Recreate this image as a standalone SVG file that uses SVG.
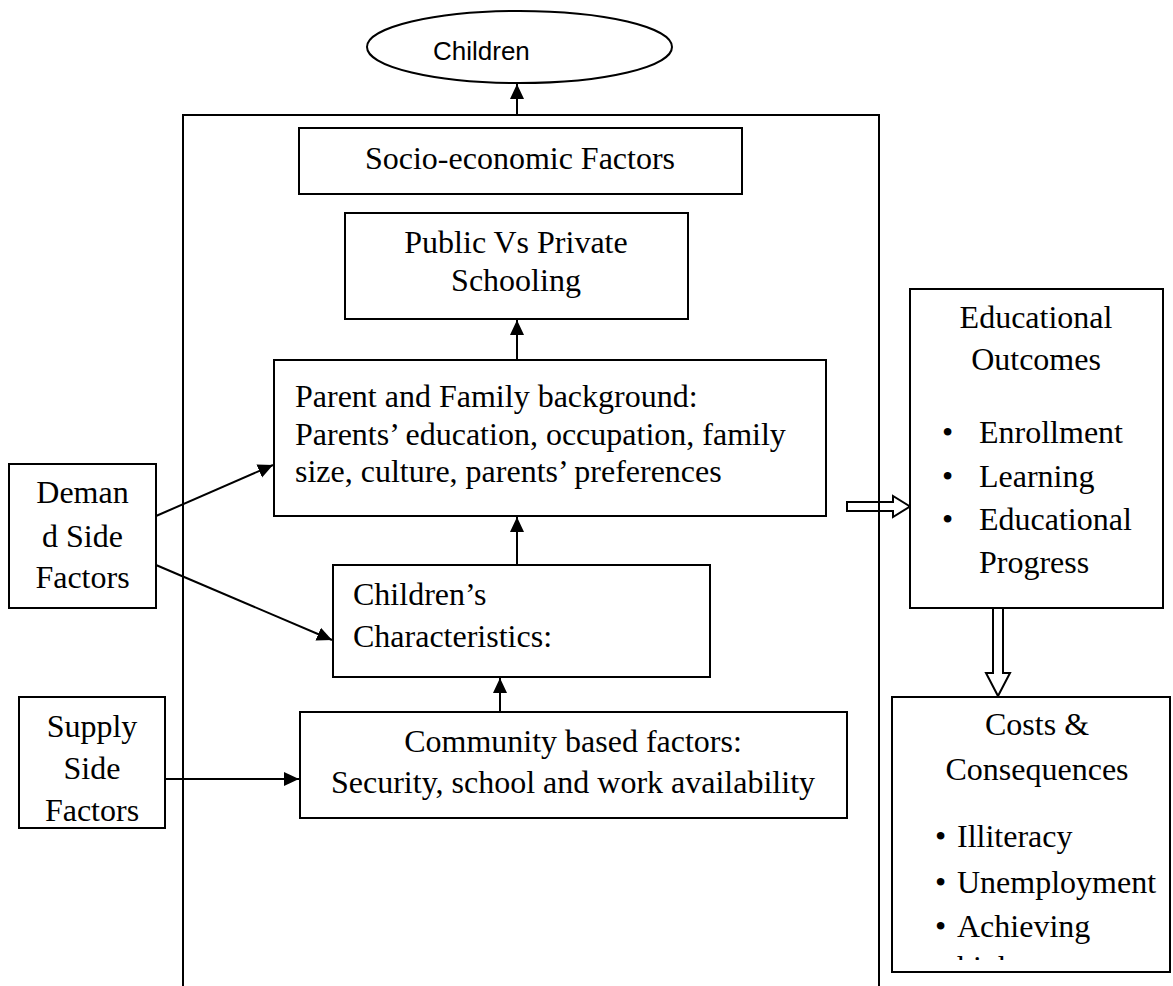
<svg xmlns="http://www.w3.org/2000/svg" width="1173" height="986" viewBox="0 0 1173 986">
<style>
.box{fill:#fff;stroke:#000;stroke-width:2}
.frame{fill:none;stroke:#000;stroke-width:2}
.t{font-family:"Liberation Serif","Times New Roman",serif;font-size:32px;fill:#000}
.c{text-anchor:middle}
.s{font-family:"Liberation Sans",Arial,sans-serif;font-size:26px;fill:#000}
.ln{stroke:#000;stroke-width:2;fill:none}
.hol{fill:#fff;stroke:#000;stroke-width:2;stroke-linejoin:miter}
</style>
<defs>
<marker id="ah" markerWidth="16" markerHeight="16" viewBox="0 0 16 16" refX="15" refY="8" orient="auto" markerUnits="userSpaceOnUse">
<path d="M0,1 L15,8 L0,15 Z" fill="#000"/>
</marker>
<clipPath id="cclip"><rect x="892" y="697" width="280" height="263"/></clipPath>
</defs>
<rect width="1173" height="986" fill="#fff"/>

<g id="connectors">
<polygon class="hol" points="847,502 893,502 893,496 910,506.5 893,517 893,511 847,511"/>
<polygon class="hol" points="993,608 1003,608 1003,673 1010,673 998,696 986,673 993,673"/>
<line class="ln" x1="517" y1="115" x2="517" y2="84" marker-end="url(#ah)"/>
<line class="ln" x1="517" y1="360" x2="517" y2="320" marker-end="url(#ah)"/>
<line class="ln" x1="517" y1="565" x2="517" y2="517" marker-end="url(#ah)"/>
<line class="ln" x1="500" y1="712" x2="500" y2="678" marker-end="url(#ah)"/>
<line class="ln" x1="156" y1="516" x2="273" y2="465" marker-end="url(#ah)"/>
<line class="ln" x1="156" y1="565" x2="332" y2="640" marker-end="url(#ah)"/>
<line class="ln" x1="165" y1="779" x2="299" y2="779" marker-end="url(#ah)"/>
</g>

<g id="frame">
<path class="frame" d="M183,986 L183,115 L879,115 L879,986"/>
</g>

<g id="children">
<ellipse class="box" cx="519.5" cy="47" rx="152.5" ry="36"/>
<text class="s" x="433" y="60">Children</text>
</g>

<g id="socio">
<rect class="box" x="299" y="128" width="443" height="66"/>
<text class="t c" x="520" y="169">Socio-economic Factors</text>
</g>

<g id="public">
<rect class="box" x="345" y="213" width="343" height="106"/>
<text class="t c" x="516" y="253">Public Vs Private</text>
<text class="t c" x="516" y="291">Schooling</text>
</g>

<g id="parent">
<rect class="box" x="274" y="360" width="552" height="156"/>
<text class="t" x="295" y="407">Parent and Family background:</text>
<text class="t" x="295" y="445">Parents’ education, occupation, family</text>
<text class="t" x="295" y="482">size, culture, parents’ preferences</text>
</g>

<g id="childchar">
<rect class="box" x="333" y="565" width="377" height="112"/>
<text class="t" x="353" y="605">Children’s</text>
<text class="t" x="353" y="647">Characteristics:</text>
</g>

<g id="community">
<rect class="box" x="300" y="712" width="547" height="106"/>
<text class="t c" x="573" y="752">Community based factors:</text>
<text class="t c" x="573" y="793">Security, school and work availability</text>
</g>

<g id="demand">
<rect class="box" x="9" y="464" width="147" height="144"/>
<text class="t c" x="82.5" y="503">Deman</text>
<text class="t c" x="82.5" y="547">d Side</text>
<text class="t c" x="82.5" y="588">Factors</text>
</g>

<g id="supply">
<rect class="box" x="19" y="697" width="146" height="131"/>
<text class="t c" x="92" y="737">Supply</text>
<text class="t c" x="92" y="779">Side</text>
<text class="t c" x="92" y="821">Factors</text>
</g>

<g id="outcomes">
<rect class="box" x="910" y="289" width="253" height="319"/>
<text class="t c" x="1036" y="328">Educational</text>
<text class="t c" x="1036" y="370">Outcomes</text>
<text class="t" x="942" y="443">•</text>
<text class="t" x="979" y="443">Enrollment</text>
<text class="t" x="942" y="487">•</text>
<text class="t" x="979" y="487">Learning</text>
<text class="t" x="942" y="530">•</text>
<text class="t" x="979" y="530">Educational</text>
<text class="t" x="979" y="573">Progress</text>
</g>

<g id="costs">
<rect class="box" x="892" y="697" width="278" height="275"/>
<text class="t c" x="1037" y="735">Costs &amp;</text>
<text class="t c" x="1037" y="780">Consequences</text>
<text class="t" x="935" y="847">•</text>
<text class="t" x="957" y="847">Illiteracy</text>
<text class="t" x="935" y="893">•</text>
<text class="t" x="957" y="893">Unemployment</text>
<text class="t" x="935" y="937">•</text>
<text class="t" x="957" y="937">Achieving</text>
<text class="t" x="957" y="978" clip-path="url(#cclip)">higher</text>
</g>
</svg>
